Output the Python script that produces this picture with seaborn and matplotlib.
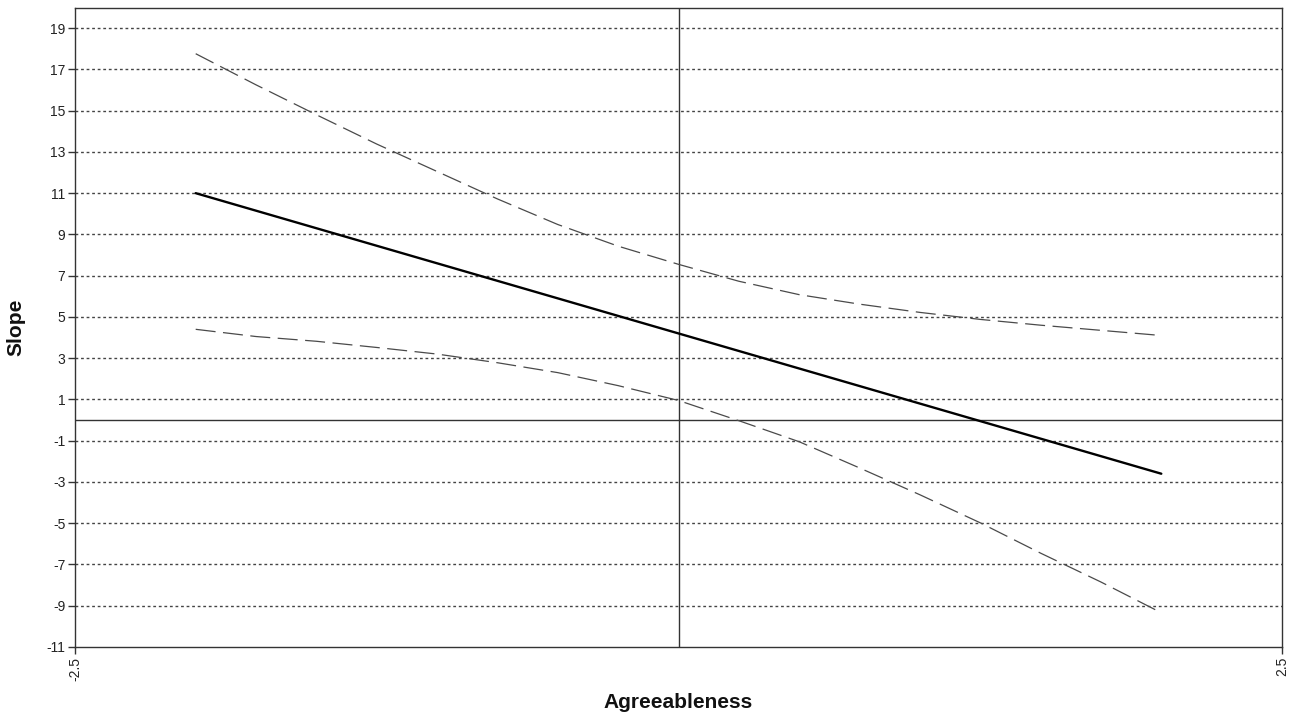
import matplotlib
matplotlib.use("Agg")
import matplotlib.pyplot as plt
import seaborn as sns
import pandas as pd

# Moderator values (Agreeableness) and simple slopes with confidence bands
agreeableness = [-2.0, -1.75, -1.5, -1.25, -1.0, -0.75, -0.5, -0.25, 0.0,
                 0.25, 0.5, 0.75, 1.0, 1.25, 1.5, 1.75, 2.0]
slope = [11.0, 10.15, 9.3, 8.45, 7.6, 6.75, 5.9, 5.05, 4.2,
         3.35, 2.5, 1.65, 0.8, -0.05, -0.9, -1.75, -2.6]
upper_ci = [17.76, 16.25, 14.8, 13.38, 12.05, 10.72, 9.48, 8.43, 7.55,
            6.73, 6.08, 5.62, 5.22, 4.88, 4.6, 4.35, 4.1]
lower_ci = [4.4, 4.05, 3.82, 3.52, 3.2, 2.78, 2.3, 1.67, 0.95,
            -0.03, -1.05, -2.32, -3.62, -4.98, -6.45, -7.85, -9.34]

y_ticks = list(range(-11, 20, 2))
x_ticks = [-2.5, 2.5]

df = pd.DataFrame({"x": agreeableness, "slope": slope,
                   "upper": upper_ci, "lower": lower_ci})

sns.set_style("white")
plt.rcParams["font.family"] = ["Liberation Sans", "DejaVu Sans"]

W, H = 1291, 719
fig = plt.figure(figsize=(W / 100, H / 100), dpi=100)
ax = fig.add_axes([75 / W, 1 - 647 / H, (1282 - 75) / W, (647 - 7.5) / H])

# dotted horizontal grid at the odd values
for yv in y_ticks[1:]:
    ax.axhline(yv, color="#444444", linewidth=1.0, linestyle=(0, (2, 2)), zorder=1)

# reference lines at zero
ax.axhline(0, color="#333333", linewidth=1.0, zorder=2)
ax.axvline(0, color="#333333", linewidth=1.0, zorder=2)

sns.lineplot(data=df, x="x", y="upper", ax=ax, color="#4a4a4a",
             linewidth=0.9, zorder=3)
sns.lineplot(data=df, x="x", y="lower", ax=ax, color="#4a4a4a",
             linewidth=0.9, zorder=3)
sns.lineplot(data=df, x="x", y="slope", ax=ax, color="black",
             linewidth=1.7, zorder=4)
for line in ax.lines[-3:-1]:
    line.set_linestyle((0, (16, 6)))

ax.set_xlim(-2.5, 2.5)
ax.set_ylim(-11, 20)
ax.set_yticks(y_ticks)
ax.set_yticklabels([str(v) for v in y_ticks], fontsize=10, color="#222222")
ax.set_xticks(x_ticks)
ax.set_xticklabels([str(v) for v in x_ticks], fontsize=10, rotation=90,
                   color="#222222")
ax.tick_params(axis="both", direction="out", length=5, width=1,
               color="#333333", left=True, bottom=True, pad=2)

for sp in ax.spines.values():
    sp.set_color("#333333")
    sp.set_linewidth(1.0)
    sp.set_visible(True)

ax.set_xlabel("")
ax.set_ylabel("")
fig.text(678 / W, 1 - 703 / H, "Agreeableness", fontsize=15, fontweight="bold",
         ha="center", va="center", color="#111111")
fig.text(16 / W, 1 - 327 / H, "Slope", fontsize=15, fontweight="bold",
         ha="center", va="center", rotation=90, color="#111111")

fig.savefig("out.png", dpi=100)
